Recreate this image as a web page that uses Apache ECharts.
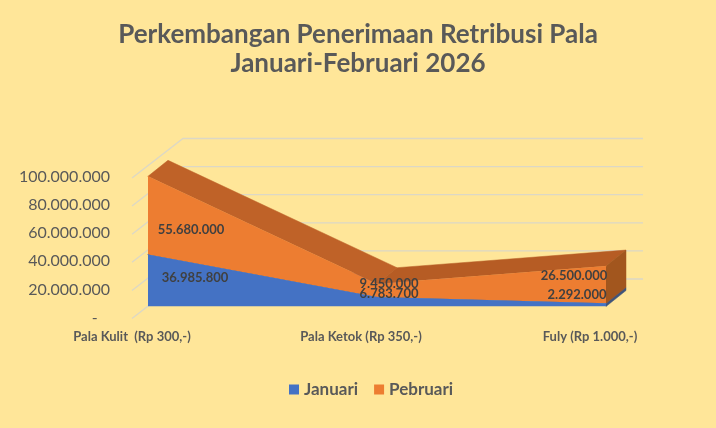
<!DOCTYPE html>
<html>
<head>
<meta charset="utf-8">
<script src="https://cdn.jsdelivr.net/npm/echarts@6/dist/echarts.min.js"></script>
<style>
  html, body { margin: 0; padding: 0; background: #FFE699; }
  #chart { width: 716px; height: 428px; }
</style>
</head>
<body>
<div id="chart"></div>
<script>
const categories = ["Pala Kulit  (Rp 300,-)", "Pala Ketok (Rp 350,-)", "Fuly (Rp 1.000,-)"];
const januari = [36985800, 6783700, 2292000];
const pebruari = [55680000, 9450000, 26500000];
const yTicks = [0, 20000000, 40000000, 60000000, 80000000, 100000000];

// fake 3d: where the back of the area sits, and where the walls are
const depth = [20, -16];
const wallBack = [35, -27.5];
const wallFront = [-16, 12];

const labelOffsetsJan = [[47, 23], [12, -3], [-29, -8]];
const labelOffsetsPeb = [[43, 54], [12, 0], [-32, 10]];

const fmt = (v) => (v === 0 ? "-" : v.toLocaleString("de-DE"));

const chart = echarts.init(document.getElementById("chart"));

// back wall + side wall gridlines, one item per tick
function renderGrid(params, api) {
  const v = api.value(0);
  const p0 = api.coord([0, v]);
  const p1 = api.coord([categories.length - 1, v]);
  const a = [p0[0] + wallFront[0], p0[1] + wallFront[1]];
  const b = [p0[0] + wallBack[0], p0[1] + wallBack[1]];
  const c = [p1[0] + wallBack[0] + 2, p1[1] + wallBack[1]];
  return {
    type: "polyline",
    shape: { points: [a, b, c] },
    style: { stroke: "#DCD8C6", lineWidth: 1.3, fill: null },
    silent: true,
  };
}

// top face and right side of each stacked layer
function depthRenderer(base, vals, topColor, topColor2, sideColor) {
  return function (params, api) {
    const i = params.dataIndex;
    const children = [];
    const top = (k) => api.coord([k, base[k] + vals[k]]);
    if (i < categories.length - 1) {
      const f0 = top(i), f1 = top(i + 1);
      const b0 = [f0[0] + depth[0], f0[1] + depth[1]];
      const b1 = [f1[0] + depth[0], f1[1] + depth[1]];
      const col = f1[1] > f0[1] ? topColor : topColor2;
      children.push({
        type: "polygon",
        shape: { points: [f0, f1, b1, b0] },
        style: { fill: col, stroke: col, lineWidth: 0.5 },
      });
    } else {
      const f0 = top(i);
      const f1 = api.coord([i, base[i]]);
      children.push({
        type: "polygon",
        shape: {
          points: [f0, f1, [f1[0] + depth[0], f1[1] + depth[1]], [f0[0] + depth[0], f0[1] + depth[1]]],
        },
        style: { fill: sideColor, stroke: sideColor, lineWidth: 0.5 },
      });
    }
    return { type: "group", children: children };
  };
}

const zeros = categories.map(() => 0);

function labelled(vals, offsets) {
  return vals.map((v, i) => ({
    value: v,
    label: { offset: offsets[i] },
  }));
}

const dataLabel = {
  show: true,
  position: "inside",
  formatter: (p) => fmt(p.value),
  fontFamily: "Lato",
  fontSize: 13,
  fontWeight: "bold",
  color: "#404040",
};

chart.setOption({
  backgroundColor: "#FFE699",
  animation: false,
  title: {
    text: "Perkembangan Penerimaan Retribusi Pala\nJanuari-Februari 2026",
    left: "center",
    top: 15,
    textStyle: {
      fontFamily: "Lato",
      fontSize: 26,
      fontWeight: "bold",
      color: "#595959",
      lineHeight: 29,
    },
  },
  legend: {
    bottom: 25,
    left: 284,
    icon: "rect",
    itemWidth: 10,
    itemHeight: 10,
    itemGap: 16,
    data: ["Januari", "Pebruari"],
    textStyle: { fontFamily: "Lato", fontSize: 17, fontWeight: "bold", color: "#595959" },
  },
  grid: { left: 148, right: 110, top: 166, bottom: 121.5 },
  xAxis: {
    type: "category",
    data: categories,
    boundaryGap: false,
    axisLine: { show: false },
    axisTick: { show: false },
    axisLabel: {
      margin: 24,
      padding: [0, 32, 0, 0],
      fontFamily: "Lato",
      fontSize: 13,
      fontWeight: "bold",
      color: "#595959",
    },
  },
  yAxis: {
    type: "value",
    min: 0,
    max: 100000000,
    interval: 20000000,
    splitLine: { show: false },
    axisLine: { show: false },
    axisTick: { show: false },
    axisLabel: {
      margin: 38,
      verticalAlign: "top",
      padding: [3, 0, 0, 0],
      fontFamily: "Lato",
      fontSize: 16,
      color: "#595959",
      formatter: (v) => (v === 0 ? "-   " : fmt(v)),
    },
  },
  series: [
    {
      name: "grid",
      type: "custom",
      data: yTicks.map((v) => [v]),
      renderItem: renderGrid,
      z: 0,
      silent: true,
      clip: false,
    },
    {
      name: "Januari depth",
      type: "custom",
      data: januari.map((v) => [v]),
      renderItem: depthRenderer(zeros, januari, "#3A5F9E", "#3A5F9E", "#40547A"),
      z: 1,
      silent: true,
      clip: false,
    },
    {
      name: "Pebruari depth",
      type: "custom",
      data: pebruari.map((v) => [v]),
      renderItem: depthRenderer(januari, pebruari, "#BF6228", "#B65C24", "#A2561E"),
      z: 1,
      silent: true,
      clip: false,
    },
    {
      name: "Januari",
      type: "line",
      stack: "total",
      data: labelled(januari, labelOffsetsJan),
      symbol: "circle",
      symbolSize: 1,
      itemStyle: { color: "#4472C4" },
      lineStyle: { width: 0 },
      areaStyle: { color: "#4472C4", opacity: 1 },
      label: dataLabel,
      z: 3,
    },
    {
      name: "Pebruari",
      type: "line",
      stack: "total",
      data: labelled(pebruari, labelOffsetsPeb),
      symbol: "circle",
      symbolSize: 1,
      itemStyle: { color: "#ED7D31" },
      lineStyle: { width: 0 },
      areaStyle: { color: "#ED7D31", opacity: 1 },
      label: dataLabel,
      z: 2,
    },
  ],
});
</script>
</body>
</html>
